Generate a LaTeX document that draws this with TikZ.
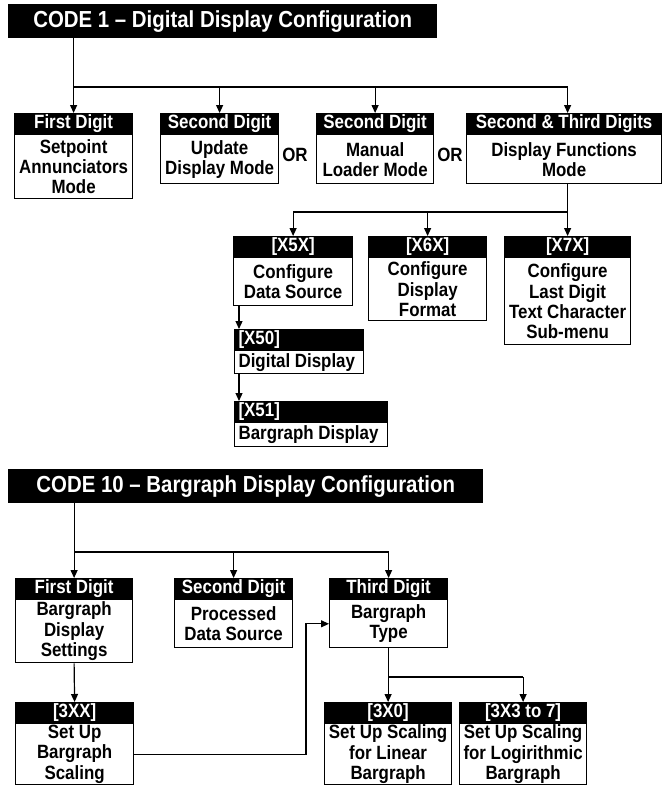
\documentclass[tikz,border=0pt]{standalone}
\usepackage{fontspec}
\setmainfont{Liberation Sans}[FakeStretch=0.88]
\usetikzlibrary{arrows.meta,positioning}
\newcommand\boxtxt{\fontsize{19.2}{20.3}\selectfont\bfseries}
\newcommand\titletxt{\fontsize{23.2}{25}\selectfont\bfseries}
\tikzset{
  title/.style = {fill=black, text=white, font=\titletxt, inner sep=0pt,
                  minimum height=34pt, anchor=north west},
  head/.style  = {draw, line width=1.2pt, fill=black, text=white, font=\boxtxt,
                  inner sep=0pt, minimum height=20pt, anchor=north west},
  body/.style  = {draw, line width=1.2pt, fill=white, font=\boxtxt, align=center,
                  inner sep=0pt},
  wire/.style  = {line width=1.2pt},
  arr/.style   = {wire, -{Triangle[length=8pt,width=7pt]}},
}

\begin{document}
\begin{tikzpicture}[x=1pt,y=-1pt]
  \useasboundingbox (0,0) rectangle (662,785);
  % CODE 1
  \node[title, minimum width=429pt] (t1) at (8,4) {CODE 1 – Digital Display Configuration};
  \node[head, minimum width=118pt] (set-h) at (14,113) {First Digit};
  \node[body, minimum width=118pt, minimum height=64pt, below=0pt of set-h] (set) {Setpoint\\Annunciators\\Mode};
  \node[head, minimum width=118pt] (upd-h) at (160,113) {Second Digit};
  \node[body, minimum width=118pt, minimum height=49pt, below=0pt of upd-h] (upd) {Update\\Display Mode};
  \node[head, minimum width=117pt] (man-h) at (316,113) {Second Digit};
  \node[body, minimum width=117pt, minimum height=49pt, below=0pt of man-h] (man) {Manual\\Loader Mode};
  \node[head, minimum width=195pt] (fun-h) at (466,113) {Second \& Third Digits};
  \node[body, minimum width=195pt, minimum height=49pt, below=0pt of fun-h] (fun) {Display Functions\\Mode};
  \node[font=\boxtxt] (or1) at (295,155) {OR};
  \node[font=\boxtxt] (or2) at (450,155) {OR};

  \node[head, minimum width=119pt] (src-h) at (233,236) {[X5X]};
  \node[body, minimum width=119pt, minimum height=48pt, below=0pt of src-h] (src) {Configure\\Data Source};
  \node[head, minimum width=118pt] (fmt-h) at (368,236) {[X6X]};
  \node[body, minimum width=118pt, minimum height=63pt, below=0pt of fmt-h] (fmt) {Configure\\Display\\Format};
  \node[head, minimum width=126pt] (chr-h) at (504,236) {[X7X]};
  \node[body, minimum width=126pt, minimum height=87pt, below=0pt of chr-h] (chr) {Configure\\Last Digit\\Text Character\\Sub-menu};

  \node[head, minimum width=129pt, text width=121pt, align=flush left] (dig-h) at (234,329) {[X50]};
  \node[body, minimum width=129pt, text width=121pt, align=flush left, minimum height=23pt, below=0pt of dig-h] (dig) {Digital Display};
  \node[head, minimum width=153pt, text width=145pt, align=flush left] (bar-h) at (234,401) {[X51]};
  \node[body, minimum width=153pt, text width=145pt, align=flush left, minimum height=24pt, below=0pt of bar-h] (bar) {Bargraph Display};

  \coordinate (bus1) at (0,87);
  \coordinate (bus2) at (0,212);
  \draw[arr] (t1.south -| set-h.north) -- (set-h.north);
  \draw[wire] (bus1 -| set-h.north) -- (bus1 -| chr-h.north);
  \foreach \n in {upd,man} \draw[arr] (bus1 -| \n-h.north) -- (\n-h.north);
  \draw[arr] (bus1 -| chr-h.north) -- (fun-h.north -| chr-h.north);
  \draw[wire] (fun.south -| chr-h.north) -- (bus2 -| chr-h.north) -- (bus2 -| src-h.north);
  \foreach \n in {src,fmt,chr} \draw[arr] (bus2 -| \n-h.north) -- (\n-h.north);
  \draw[arr] ([xshift=6pt]src.south west) -- ([xshift=6pt]src.south west |- dig-h.north);
  \draw[arr] ([xshift=6pt]src.south west |- dig.south) -- ([xshift=6pt]src.south west |- bar-h.north);

  % CODE 10
  \node[title, minimum width=475pt] (t10) at (8,469) {CODE 10 – Bargraph Display Configuration};
  \node[head, minimum width=117pt] (set2-h) at (15,578) {First Digit};
  \node[body, minimum width=117pt, minimum height=63pt, below=0pt of set2-h] (set2) {Bargraph\\Display\\Settings};
  \node[head, minimum width=118pt] (pds-h) at (174,578) {Second Digit};
  \node[body, minimum width=118pt, minimum height=48pt, below=0pt of pds-h] (pds) {Processed\\Data Source};
  \node[head, minimum width=118pt] (typ-h) at (329,578) {Third Digit};
  \node[body, minimum width=118pt, minimum height=48pt, below=0pt of typ-h] (typ) {Bargraph\\Type};
  \node[head, minimum width=118pt] (scl-h) at (15,702) {[3XX]};
  \node[body, minimum width=118pt, minimum height=61pt, below=0pt of scl-h] (scl) {Set Up\\Bargraph\\Scaling};
  \node[head, minimum width=127pt] (lin-h) at (324,702) {[3X0]};
  \node[body, minimum width=127pt, minimum height=61pt, below=0pt of lin-h] (lin) {Set Up Scaling\\for Linear\\Bargraph};
  \node[head, minimum width=127pt] (log-h) at (459,702) {[3X3 to 7]};
  \node[body, minimum width=127pt, minimum height=61pt, below=0pt of log-h] (log) {Set Up Scaling\\for Logirithmic\\Bargraph};

  \coordinate (bus3) at (0,552);
  \coordinate (bus4) at (0,677);
  \coordinate (jog) at (306,0);
  \draw[arr] (t10.south -| set2-h.north) -- (set2-h.north);
  \draw[wire] (bus3 -| set2-h.north) -- (bus3 -| typ-h.north);
  \foreach \n in {pds,typ} \draw[arr] (bus3 -| \n-h.north) -- (\n-h.north);
  \draw[arr] (set2.south) -- (scl-h.north);
  \draw[arr] (scl.east) -| (jog |- typ.west) -- (typ.west);
  \draw[wire] (typ.south) -- (bus4 -| typ.south) -- (bus4 -| log-h.north);
  \foreach \n in {lin,log} \draw[arr] (bus4 -| \n-h.north) -- (\n-h.north);
\end{tikzpicture}
\end{document}
